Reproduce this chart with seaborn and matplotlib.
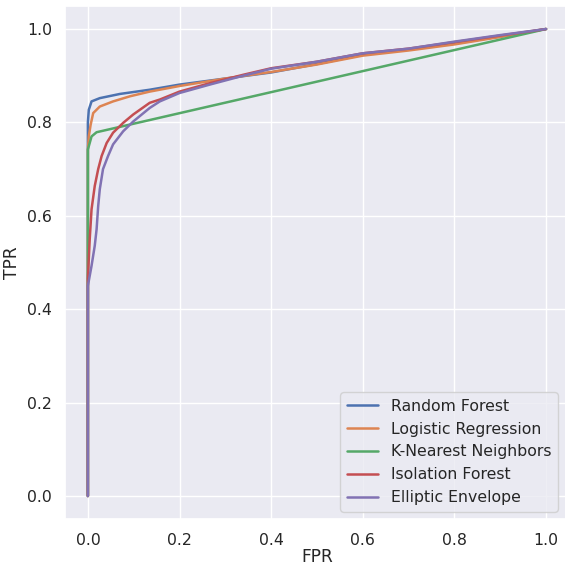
import matplotlib
matplotlib.use("Agg")
import matplotlib.pyplot as plt
import seaborn as sns
import pandas as pd

# ROC curve points
rf_fpr = [0, 0, 0.002, 0.008, 0.026, 0.07, 0.135, 0.2, 0.3, 0.4, 0.5, 0.6, 0.7, 0.8, 0.9, 1.0]
rf_tpr = [0, 0.80, 0.827, 0.845, 0.852, 0.861, 0.870, 0.881, 0.894, 0.907, 0.925, 0.945, 0.956, 0.969, 0.984, 1.0]

lr_fpr = [0, 0, 0.002, 0.006, 0.0116, 0.026, 0.055, 0.092, 0.135, 0.2, 0.3, 0.4, 0.5, 0.6, 0.7, 0.8, 0.9, 1.0]
lr_tpr = [0, 0.742, 0.77, 0.795, 0.82, 0.834, 0.845, 0.856, 0.866, 0.878, 0.894, 0.908, 0.924, 0.943, 0.954, 0.967, 0.983, 1.0]

knn_fpr = [0, 0, 0.008, 0.019, 1.0]
knn_tpr = [0, 0.742, 0.77, 0.779, 1.0]

if_fpr = [0, 0, 0.004, 0.008, 0.015, 0.0225, 0.03, 0.041, 0.055, 0.077, 0.099, 0.135, 0.157, 0.2, 0.266, 0.339,
          0.4, 0.5, 0.6, 0.7, 0.8, 0.9, 1.0]
if_tpr = [0, 0.465, 0.55, 0.614, 0.664, 0.70, 0.728, 0.756, 0.778, 0.799, 0.817, 0.842, 0.849, 0.866, 0.884, 0.902,
          0.916, 0.93, 0.948, 0.958, 0.972, 0.986, 1.0]

ee_fpr = [0, 0, 0.008, 0.015, 0.019, 0.0225, 0.026, 0.033, 0.044, 0.055, 0.077, 0.099, 0.135, 0.157, 0.2, 0.266,
          0.339, 0.4, 0.5, 0.6, 0.7, 0.8, 0.9, 1.0]
ee_tpr = [0, 0.45, 0.493, 0.536, 0.571, 0.621, 0.657, 0.70, 0.728, 0.753, 0.781, 0.802, 0.831, 0.845, 0.863, 0.881,
          0.90, 0.915, 0.93, 0.948, 0.958, 0.973, 0.987, 1.0]

models = ["Random Forest", "Logistic Regression", "K-Nearest Neighbors", "Isolation Forest", "Elliptic Envelope"]
curves = [(rf_fpr, rf_tpr), (lr_fpr, lr_tpr), (knn_fpr, knn_tpr), (if_fpr, if_tpr), (ee_fpr, ee_tpr)]

sns.set_theme(style="darkgrid", font_scale=1.03)
fig = plt.figure(figsize=(5.65, 5.67), dpi=100)
ax = fig.add_axes([0.115, 0.084, 0.892, 0.906])
for name, (f, t) in zip(models, curves):
    sns.lineplot(x=f, y=t, sort=False, estimator=None, label=name, ax=ax, linewidth=1.8)
ax.set_xlabel("FPR", labelpad=0)
ax.set_ylabel("TPR")
ax.legend(loc="lower right", bbox_to_anchor=(0.993, 0.0))
fig.savefig("out.png", dpi=100)
